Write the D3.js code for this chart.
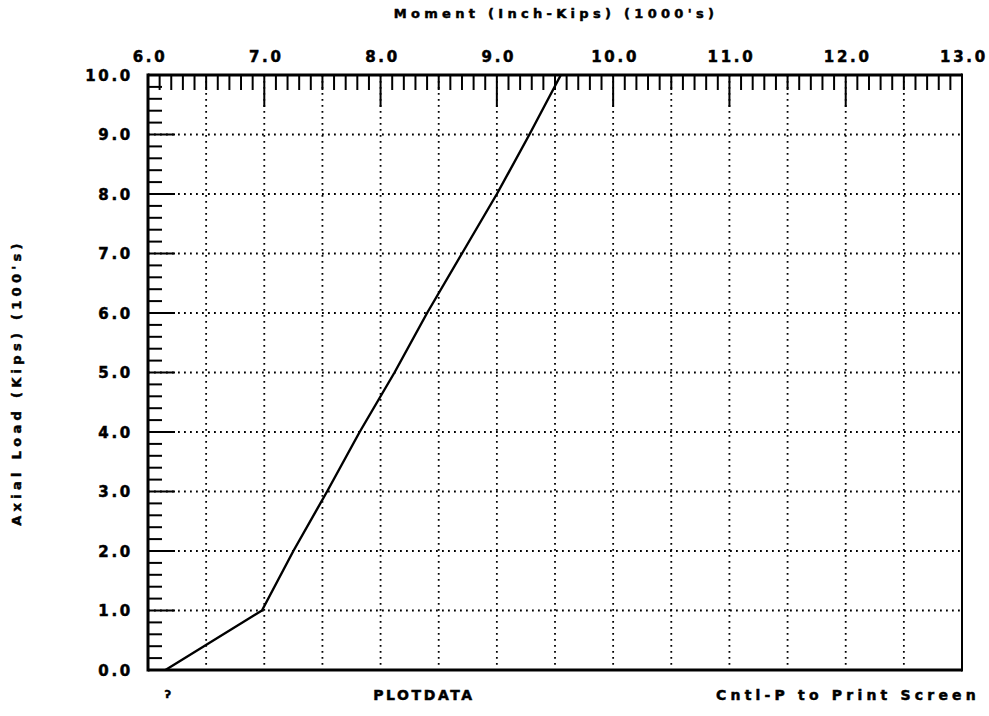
<!DOCTYPE html>
<html>
<head>
<meta charset="utf-8">
<script src="https://cdn.jsdelivr.net/npm/d3@7"></script>
<style>
  body { margin: 0; background: #fff; }
  svg text { font-family: "DejaVu Sans", sans-serif; font-weight: bold; fill: #000; stroke: #000; stroke-width: 0.5px; }
</style>
</head>
<body>
<svg id="chart" width="989" height="716"></svg>
<script>
// moment (1000's inch-kips) vs axial load (100's kips)
const momentVals = [6.15, 6.98, 7.25, 7.54, 7.82, 8.12, 8.40, 8.70, 9.00, 9.28, 9.55];
const loadVals   = [0.0, 1.0, 2.0, 3.0, 4.0, 5.0, 6.0, 7.0, 8.0, 9.0, 10.0];

const xTickVals = [6, 7, 8, 9, 10, 11, 12, 13];
const xTickLabels = ["6.0", "7.0", "8.0", "9.0", "10.0", "11.0", "12.0", "13.0"];
const yTickVals = [0, 1, 2, 3, 4, 5, 6, 7, 8, 9, 10];
const yTickLabels = ["0.0", "1.0", "2.0", "3.0", "4.0", "5.0", "6.0", "7.0", "8.0", "9.0", "10.0"];

const xTitle = "Moment (Inch-Kips) (1000's)";
const yTitle = "Axial Load (Kips) (100's)";

const pLeft = 148, pRight = 962, pTop = 75, pBottom = 670;

const x = d3.scaleLinear().domain([6, 13]).range([pLeft, pRight]);
const y = d3.scaleLinear().domain([0, 10]).range([pBottom, pTop]);

const svg = d3.select("#chart");

// dotted grid: verticals every 0.5, horizontals every 1.0
const vGrid = d3.range(6.5, 13, 0.5);
svg.append("g").selectAll("line")
    .data(vGrid).enter().append("line")
    .attr("x1", d => x(d)).attr("x2", d => x(d))
    .attr("y1", pTop).attr("y2", pBottom)
    .attr("stroke", "#000").attr("stroke-width", 1.8)
    .attr("stroke-dasharray", "1.8,4.2");

svg.append("g").selectAll("line")
    .data(yTickVals.slice(1, -1)).enter().append("line")
    .attr("x1", pLeft).attr("x2", pRight)
    .attr("y1", d => y(d)).attr("y2", d => y(d))
    .attr("stroke", "#000").attr("stroke-width", 1.8)
    .attr("stroke-dasharray", "1.8,4.2");

// top ticks: minor every 0.1, major every 1.0
const topTicks = d3.range(61, 130).map(d => d / 10);
svg.append("g").selectAll("line")
    .data(topTicks).enter().append("line")
    .attr("x1", d => x(d)).attr("x2", d => x(d))
    .attr("y1", pTop)
    .attr("y2", d => Math.abs(d - Math.round(d)) < 1e-6 ? pTop + 32 : pTop + 15)
    .attr("stroke", "#000").attr("stroke-width", 2);

// left ticks: minor every 0.2, major every 1.0
const leftTicks = d3.range(1, 50).map(d => d / 5);
svg.append("g").selectAll("line")
    .data(leftTicks).enter().append("line")
    .attr("x1", pLeft)
    .attr("x2", d => Math.abs(d - Math.round(d)) < 1e-6 ? pLeft + 27 : pLeft + 14)
    .attr("y1", d => y(d)).attr("y2", d => y(d))
    .attr("stroke", "#000").attr("stroke-width", 2);

// frame
svg.append("line").attr("x1", pLeft).attr("x2", pRight).attr("y1", pTop).attr("y2", pTop)
    .attr("stroke", "#000").attr("stroke-width", 3);
svg.append("line").attr("x1", pLeft).attr("x2", pLeft).attr("y1", pTop - 1.5).attr("y2", pBottom + 1.5)
    .attr("stroke", "#000").attr("stroke-width", 3);
svg.append("line").attr("x1", pLeft).attr("x2", pRight).attr("y1", pBottom).attr("y2", pBottom)
    .attr("stroke", "#000").attr("stroke-width", 3);
svg.append("line").attr("x1", pRight).attr("x2", pRight).attr("y1", pTop - 1.5).attr("y2", pBottom + 1.5)
    .attr("stroke", "#000").attr("stroke-width", 2);

// curve
const line = d3.line().x((d, i) => x(momentVals[i])).y(d => y(d));
svg.append("path")
    .datum(loadVals)
    .attr("d", line)
    .attr("fill", "none")
    .attr("stroke", "#000")
    .attr("stroke-width", 2.4)
    .attr("stroke-linejoin", "round");

// tick labels
svg.append("g").selectAll("text")
    .data(xTickVals).enter().append("text")
    .attr("x", d => x(d) + 2)
    .attr("y", 62)
    .attr("text-anchor", "middle")
    .attr("font-size", 15)
    .attr("letter-spacing", 2.7)
    .text((d, i) => xTickLabels[i]);

svg.append("g").selectAll("text")
    .data(yTickVals).enter().append("text")
    .attr("x", 133)
    .attr("y", d => y(d) + 5.5)
    .attr("text-anchor", "end")
    .attr("font-size", 15)
    .attr("letter-spacing", 2.7)
    .text((d, i) => yTickLabels[i]);

// titles
svg.append("text")
    .attr("x", 556)
    .attr("y", 18)
    .attr("text-anchor", "middle")
    .attr("font-size", 13)
    .attr("letter-spacing", 4.3)
    .text(xTitle);

svg.append("text")
    .attr("transform", "translate(21," + ((pTop + pBottom) / 2 + 10) + ") rotate(-90)")
    .attr("text-anchor", "middle")
    .attr("font-size", 13)
    .attr("letter-spacing", 4.3)
    .text(yTitle);

svg.append("text")
    .attr("x", 168).attr("y", 698)
    .attr("text-anchor", "middle")
    .attr("font-size", 11)
    .text("ʔ");

svg.append("text")
    .attr("x", 424).attr("y", 700)
    .attr("text-anchor", "middle")
    .attr("font-size", 14)
    .attr("letter-spacing", 2.6)
    .text("PLOTDATA");

svg.append("text")
    .attr("x", 980).attr("y", 700)
    .attr("text-anchor", "end")
    .attr("font-size", 14)
    .attr("letter-spacing", 4.2)
    .text("Cntl-P to Print Screen");
</script>
</body>
</html>
